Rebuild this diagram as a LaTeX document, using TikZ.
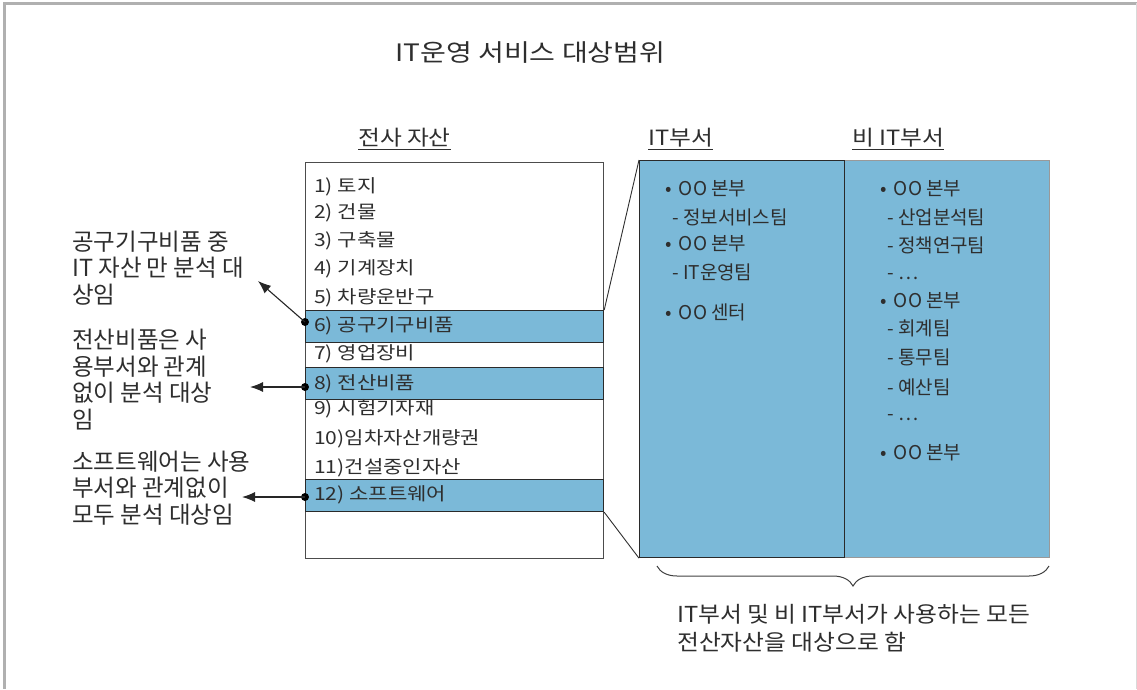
\documentclass[tikz,border=0pt]{standalone}
\usepackage{fontspec}
\setmainfont{Noto Sans CJK KR}
\newfontfamily\kr{Noto Sans CJK KR}
\newfontfamily\krw[FakeStretch=1.17]{Noto Sans CJK KR}
\newfontfamily\krh[FakeStretch=1.13]{Noto Sans CJK KR}
\newfontfamily\krt[FakeStretch=1.17]{Noto Sans CJK KR}
\newfontfamily\krb[FakeStretch=1.08]{Noto Sans CJK KR}
\usetikzlibrary{arrows.meta,decorations.pathreplacing}
\definecolor{txt}{HTML}{2E2E2E}
\definecolor{bluef}{HTML}{7BB9D8}
\definecolor{barc}{HTML}{2A2A2A}
\definecolor{framec}{HTML}{B0B0B0}
\newcommand\bul{•\hspace{3pt}}
\begin{document}
\begin{tikzpicture}[x=1pt,y=-1pt,
  lbl/.style={anchor=west,inner sep=0pt,text=txt},
  item/.style={lbl,font=\krw\fontsize{18}{20}\selectfont,text height=14pt,text depth=0.7pt},
  dept/.style={lbl,font=\kr\fontsize{19}{21}\selectfont,text height=14.8pt,text depth=0.8pt},
  note/.style={lbl,font=\kr\fontsize{23.5}{26}\selectfont,text height=18.3pt,text depth=0.9pt},
  head/.style={lbl,font=\krh\fontsize{21}{24}\selectfont,text height=16.4pt,text depth=0.8pt},
  ttl/.style={lbl,font=\krt\fontsize{24}{27}\selectfont,text height=18.7pt,text depth=1pt},
  sumtxt/.style={lbl,font=\krb\fontsize{22}{25}\selectfont,text height=17.2pt,text depth=0.9pt},
  bar/.style={draw=barc,fill=bluef,line width=1.2pt,minimum width=298pt,minimum height=32pt,inner sep=0pt,anchor=north west},
  dot/.style={circle,fill=black,inner sep=0pt,minimum size=8pt},
  arr/.style={-{Latex[length=13pt,width=10pt]},line width=1.1pt,black!85},
  zoomline/.style={draw=txt,line width=0.9pt},
  uline/.style={draw=txt,line width=0.9pt}]
\useasboundingbox (0,0) rectangle (1137,689);
% frame
\draw[framec,line width=2.5pt] (3,3.5) -- (1137,3.5);
\draw[framec,line width=2.5pt] (4.5,3) -- (4.5,689);
\draw[black!15,line width=1pt] (1136,3) -- (1136,689);
% title
\node[ttl] (title) at (395,53) {IT운영 서비스 대상범위};
% headers
\node[head] (h1) at (358,138) {전사 자산};
\node[head] (h2) at (648,138) {IT부서};
\node[head] (h3) at (852,138) {비 IT부서};
\foreach \h in {h1,h2,h3}{\draw[uline] ([yshift=-3pt]\h.south west) -- ([yshift=-3pt]\h.south east);}
% asset box
\node[draw=black!70,line width=1.2pt,minimum width=298pt,minimum height=396pt,inner sep=0pt,anchor=north west] (assets) at (305,162) {};
\node[bar] (b6) at (305,310) {};
\node[bar] (b8) at (305,367) {};
\node[bar] (b12) at (305,479) {};
\node[item] (i1) at (314,186) {1) 토지};
\node[item] (i2) at (314,212) {2) 건물};
\node[item] (i3) at (314,240) {3) 구축물};
\node[item] (i4) at (314,268) {4) 기계장치};
\node[item] (i5) at (314,297) {5) 차량운반구};
\node[item] (i6) at (314,325) {6) 공구기구비품};
\node[item] (i7) at (314,353) {7) 영업장비};
\node[item] (i8) at (314,383) {8) 전산비품};
\node[item] (i9) at (314,408) {9) 시험기자재};
\node[item] (i10) at (314,438) {10)임차자산개량권};
\node[item] (i11) at (314,467) {11)건설중인자산};
\node[item] (i12) at (314,494) {12) 소프트웨어};
% dots
\node[dot] (d6) at (305,322) {};
\node[dot] (d8) at (305,387) {};
\node[dot] (d12) at (305,497) {};
% annotations
\node[note] (n1a) at (72,242) {공구기구비품 중};
\node[note] (n1b) at (72,268) {IT 자산 만 분석 대};
\node[note] (n1c) at (72,295) {상임};
\node[note] (n2a) at (72,340) {전산비품은 사};
\node[note] (n2b) at (72,367) {용부서와 관계};
\node[note] (n2c) at (72,393) {없이 분석 대상};
\node[note] (n2d) at (72,420) {임};
\node[note] (n3a) at (72,462) {소프트웨어는 사용};
\node[note] (n3b) at (72,488) {부서와 관계없이};
\node[note] (n3c) at (72,515) {모두 분석 대상임};
\coordinate (t1) at (258,281);
\coordinate (t2) at (250,387);
\coordinate (t3) at (242,497);
\draw[arr] (d6.center) -- (t1);
\draw[arr] (d8.center) -- (t2);
\draw[arr] (d12.center) -- (t3);
% department boxes
\node[draw=black!40,fill=bluef,line width=1pt,minimum width=205pt,minimum height=397pt,inner sep=0pt,anchor=north west] (nit) at (844,160) {};
\node[draw=barc,fill=bluef,line width=1.2pt,minimum width=205pt,minimum height=397pt,inner sep=0pt,anchor=north west] (it) at (639,160) {};
\draw[zoomline] (b6.north east) -- (it.north west);
\draw[zoomline] (b12.south east) -- (it.south west);
% IT dept items
\node[dept] (a1) at (665,188) {\bul{} OO 본부};
\node[dept] (a2) at (672,217) {- 정보서비스팀};
\node[dept] (a3) at (665,243) {\bul{} OO 본부};
\node[dept] (a4) at (672,272) {- IT운영팀};
\node[dept] (a5) at (665,312) {\bul{} OO 센터};
% non-IT dept items
\node[dept] (c1) at (880,188) {\bul{} OO 본부};
\node[dept] (c2) at (887,217) {- 산업분석팀};
\node[dept] (c3) at (887,245) {- 정책연구팀};
\node[dept] (c4) at (887,272) {- …};
\node[dept] (c5) at (880,300) {\bul{} OO 본부};
\node[dept] (c6) at (887,328) {- 회계팀};
\node[dept] (c7) at (887,357) {- 통무팀};
\node[dept] (c8) at (887,387) {- 예산팀};
\node[dept] (c9) at (887,413) {- …};
\node[dept] (c10) at (880,452) {\bul{} OO 본부};
% brace
\coordinate (bl) at (657,566);
\coordinate (br) at (1049,566);
\draw[black!75,line width=1pt,decorate,decoration={brace,mirror,amplitude=20pt}] (bl) -- (br);
\node[sumtxt] (s1) at (677,614) {IT부서 및 비 IT부서가 사용하는 모든};
\node[sumtxt] (s2) at (677,642) {전산자산을 대상으로 함};
\end{tikzpicture}
\end{document}
